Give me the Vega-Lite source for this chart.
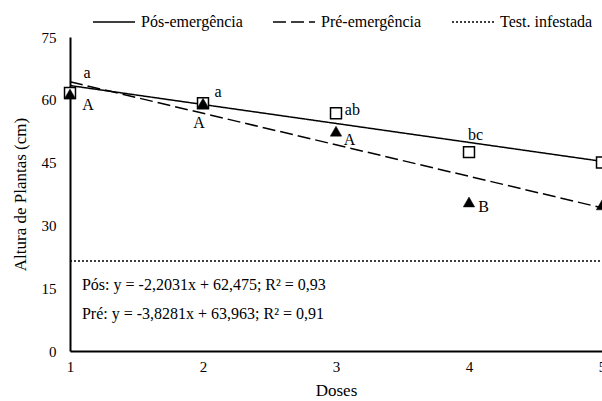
{
  "$schema": "https://vega.github.io/schema/vega-lite/v6.json",
  "width": 532,
  "height": 314,
  "autosize": {"type": "none"},
  "padding": {"left": 70, "top": 37, "right": 0, "bottom": 50},
  "background": "white",
  "config": {
    "view": {"stroke": null},
    "font": "Liberation Serif",
    "axis": {
      "domainColor": "black",
      "domainWidth": 2,
      "ticks": false,
      "grid": false,
      "labelFont": "Liberation Serif",
      "labelFontSize": 15,
      "labelColor": "black",
      "titleFont": "Liberation Serif",
      "titleFontSize": 17,
      "titleFontWeight": "normal",
      "titleColor": "black"
    }
  },
  "datasets": {
    "linhas": [
      {"serie": "Pós-emergência", "dose": 1, "altura": 63.4},
      {"serie": "Pós-emergência", "dose": 5, "altura": 45.3},
      {"serie": "Pré-emergência", "dose": 1, "altura": 64.3},
      {"serie": "Pré-emergência", "dose": 5, "altura": 34.2},
      {"serie": "Test. infestada", "dose": 1, "altura": 21.5},
      {"serie": "Test. infestada", "dose": 5, "altura": 21.5}
    ],
    "pos": [
      {"dose": 1, "altura": 61.6},
      {"dose": 2, "altura": 59.2},
      {"dose": 3, "altura": 56.8},
      {"dose": 4, "altura": 47.5},
      {"dose": 5, "altura": 45.0}
    ],
    "pre": [
      {"dose": 1, "altura": 61.4},
      {"dose": 2, "altura": 59.2},
      {"dose": 3, "altura": 52.5},
      {"dose": 4, "altura": 35.6},
      {"dose": 5, "altura": 34.9}
    ],
    "letras": [
      {"letra": "a", "dose": 1.128, "altura": 66.4},
      {"letra": "A", "dose": 1.136, "altura": 58.8},
      {"letra": "a", "dose": 2.114, "altura": 61.9},
      {"letra": "A", "dose": 1.971, "altura": 54.5},
      {"letra": "ab", "dose": 3.123, "altura": 57.6},
      {"letra": "A", "dose": 3.101, "altura": 50.4},
      {"letra": "bc", "dose": 4.05, "altura": 51.6},
      {"letra": "B", "dose": 4.11, "altura": 34.4},
      {"letra": "c", "dose": 5.036, "altura": 49.7}
    ],
    "equacoes": [
      {"texto": "Pós: y = -2,2031x + 62,475; R² = 0,93", "dose": 1.09, "altura": 15.8},
      {"texto": "Pré: y = -3,8281x + 63,963; R² = 0,91", "dose": 1.09, "altura": 8.9}
    ]
  },
  "encoding": {
    "x": {
      "field": "dose",
      "type": "quantitative",
      "scale": {"domain": [1, 5], "nice": false, "zero": false},
      "axis": {"values": [1, 2, 3, 4, 5], "labelPadding": 8, "title": "Doses", "titlePadding": 8, "labelFlush": false}
    },
    "y": {
      "field": "altura",
      "type": "quantitative",
      "scale": {"domain": [0, 75], "nice": false},
      "axis": {"values": [0, 15, 30, 45, 60, 75], "labelPadding": 14, "title": "Altura de Plantas (cm)", "titlePadding": 12}
    }
  },
  "layer": [
    {
      "data": {"name": "linhas"},
      "mark": {"type": "line", "color": "black", "strokeWidth": 1.5},
      "encoding": {
        "strokeDash": {
          "field": "serie",
          "type": "nominal",
          "scale": {
            "domain": ["Pós-emergência", "Pré-emergência", "Test. infestada"],
            "range": [[1, 0], [13, 5], [2, 2]]
          },
          "legend": {
            "title": null,
            "orient": "none",
            "legendX": 22,
            "legendY": -37,
            "direction": "horizontal",
            "symbolType": "stroke",
            "symbolSize": 1764,
            "symbolStrokeWidth": 1.5,
            "symbolStrokeColor": "black",
            "labelFont": "Liberation Serif",
            "labelFontSize": 16,
            "labelColor": "black",
            "labelOffset": 5,
            "columnPadding": 27,
            "padding": 0
          }
        }
      }
    },
    {
      "data": {"name": "pos"},
      "mark": {"type": "point", "shape": "square", "size": 120, "filled": false, "fill": "white", "fillOpacity": 1, "stroke": "black", "strokeWidth": 1.5, "opacity": 1}
    },
    {
      "data": {"name": "pre"},
      "mark": {"type": "point", "shape": "triangle-up", "size": 130, "filled": true, "fill": "black", "stroke": "black", "strokeWidth": 0.5, "opacity": 1}
    },
    {
      "data": {"name": "letras"},
      "mark": {"type": "text", "font": "Liberation Serif", "fontSize": 16, "color": "black", "align": "center", "baseline": "middle"},
      "encoding": {"text": {"field": "letra", "type": "nominal"}}
    },
    {
      "data": {"name": "equacoes"},
      "mark": {"type": "text", "font": "Liberation Serif", "fontSize": 16, "color": "black", "align": "left", "baseline": "middle"},
      "encoding": {"text": {"field": "texto", "type": "nominal"}}
    }
  ]
}
